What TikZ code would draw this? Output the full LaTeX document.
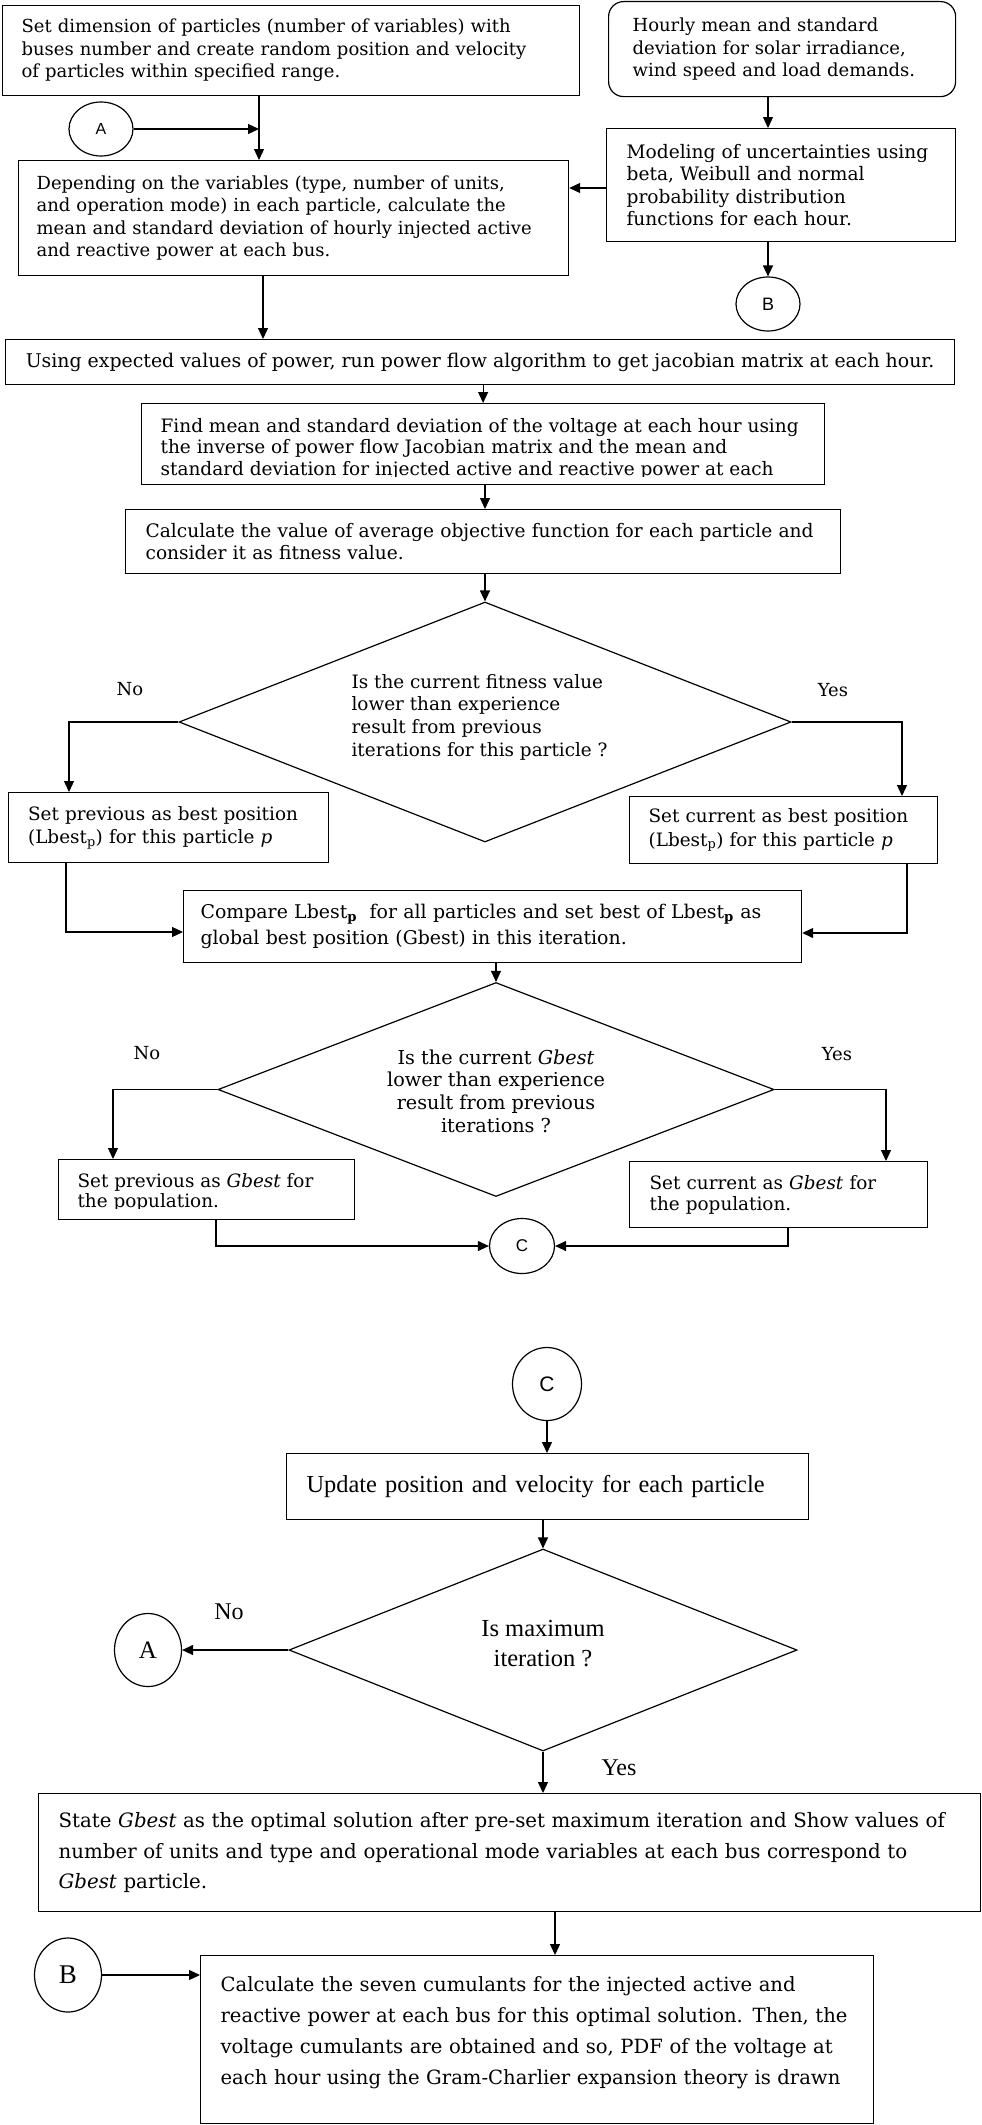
\documentclass[tikz,border=0pt]{standalone}
\usepackage{fontspec}
\setmainfont{DejaVu Serif}
\newfontfamily\tms{Liberation Serif}
\newfontfamily\arl{Liberation Sans}
\usetikzlibrary{arrows.meta,shapes.geometric,calc}
\tikzset{
  arr/.style={-{Triangle[length=11pt,width=10pt]}},
  box/.style={draw, rectangle, inner ysep=0pt, anchor=north west, align=left},
  bodyfont/.style={font=\fontsize{18}{22.5}\selectfont},
  ell/.style={draw, ellipse, inner sep=0pt},
  dia/.style={draw, diamond, inner sep=0pt},
  lbl/.style={font=\fontsize{18}{22}\selectfont},
  tlbl/.style={font=\tms\fontsize{24}{28}\selectfont}
}
\begin{document}
\begin{tikzpicture}[x=1pt,y=-1pt,line width=1.2pt]
\useasboundingbox (0,0) rectangle (982,2125);
\fill[white] (0,0) rectangle (982,2125);

% ---------- top part ----------
\node[box, bodyfont, minimum width=577pt, minimum height=90pt, inner xsep=19pt, text width=539pt] (b1) at (2,5)
 {Set dimension of particles (number of variables) with\\ buses number and create random position and velocity\\ of particles within specified range.};

\node[box, bodyfont, rounded corners=15pt, minimum width=347pt, minimum height=95pt, inner xsep=24pt, text width=299pt] (b2) at (608,1)
 {Hourly mean and standard\\ deviation for solar irradiance,\\ wind speed and load demands.};

\node[box, font=\fontsize{18.6}{22.5}\selectfont, minimum width=349pt, minimum height=113pt, inner xsep=20pt, text width=309pt] (b3) at (606,128)
 {Modeling of uncertainties using\\ beta, Weibull and normal\\ probability distribution\\ functions for each hour.};

\node[box, bodyfont, minimum width=550pt, minimum height=115pt, inner xsep=18pt, text width=514pt] (b4) at (18,160)
 {Depending on the variables (type, number of units,\\ and operation mode) in each particle, calculate the\\ mean and standard deviation of hourly injected active\\ and reactive power at each bus.};

\node[ell, minimum width=64pt, minimum height=54pt, font=\arl\fontsize{16}{16}\selectfont] (a1) at (101,129) {A};
\node[ell, minimum width=64pt, minimum height=54pt, font=\arl\fontsize{18}{18}\selectfont] (bb1) at (768,304) {B};

\node[box, font=\fontsize{18.9}{22.5}\selectfont, minimum width=949pt, minimum height=45pt, inner xsep=0pt] (b5) at (5,339)
 {Using expected values of power, run power flow algorithm to get jacobian matrix at each hour.};

\node[box, minimum width=683pt, minimum height=81pt, inner sep=0pt] (b6) at (141,403) {};
\begin{scope}
\clip (141,403) rectangle (824,476.5);
\node[anchor=north west, inner sep=0pt, align=left, font=\fontsize{18.5}{21.7}\selectfont] (b6t) at (160,417.5)
 {Find mean and standard deviation of the voltage at each hour using\\ the inverse of power flow Jacobian matrix and the mean and\\ standard deviation for injected active and reactive power at each};
\end{scope}

\node[box, font=\fontsize{18.6}{22.5}\selectfont, minimum width=715pt, minimum height=64pt, inner xsep=20pt, text width=675pt] (b7) at (125,509)
 {Calculate the value of average objective function for each particle and\\ consider it as fitness value.};

\node[dia, minimum width=612pt, minimum height=240pt] (d1) at (485,722) {};
\node[anchor=west, align=left, inner sep=0pt, font=\fontsize{18.4}{22.7}\selectfont] (d1t) at (351,717)
 {Is the current fitness value\\ lower than experience\\ result from previous\\ iterations for this particle ?};
\node[lbl] (no1) at (130,689) {No};
\node[lbl] (yes1) at (833,690) {Yes};

\node[box, font=\fontsize{18.4}{23.5}\selectfont, minimum width=320pt, minimum height=70pt, inner xsep=20pt, text width=280pt] (b8) at (7.5,792)
 {Set previous as best position\\ (Lbest\textsubscript{p}) for this particle \textit{p}};
\node[box, font=\fontsize{18.4}{23.5}\selectfont, minimum width=308pt, minimum height=67pt, inner xsep=19pt, text width=270pt] (b9) at (629,796)
 {Set current as best position\\ (Lbest\textsubscript{p}) for this particle \textit{p}};

\node[box, font=\fontsize{18.9}{26}\selectfont, minimum width=618pt, minimum height=72pt, inner xsep=17pt, text width=584pt] (b10) at (183,890)
 {Compare Lbest\textsubscript{\textbf{p}}\ \ for all particles and set best of Lbest\textsubscript{\textbf{p}} as\\ global best position (Gbest) in this iteration.};

\node[dia, minimum width=556pt, minimum height=214pt] (d2) at (496,1089.5) {};
\node[align=center, inner sep=0pt, font=\fontsize{19.2}{22.7}\selectfont] (d2t) at (496,1091)
 {Is the current \textit{Gbest}\\ lower than experience\\ result from previous\\ iterations ?};
\node[lbl] (no2) at (147,1053) {No};
\node[lbl] (yes2) at (837,1054) {Yes};

\node[box, minimum width=296pt, minimum height=60pt, inner sep=0pt] (b11) at (58,1159) {};
\begin{scope}
\clip (58,1159) rectangle (354,1208);
\node[anchor=north west, inner sep=0pt, align=left, font=\fontsize{18.4}{20}\selectfont] (b11t) at (77,1173)
 {Set previous as \textit{Gbest} for\\ the population.};
\end{scope}

\node[box, font=\fontsize{18.4}{21}\selectfont, minimum width=298pt, minimum height=66pt, inner xsep=20pt, text width=258pt] (b12) at (629,1161)
 {Set current as \textit{Gbest} for\\ the population.};

\node[ell, minimum width=65pt, minimum height=55pt, font=\arl\fontsize{17}{17}\selectfont] (c1) at (522,1246) {C};

% ---------- lower part ----------
\node[ell, minimum width=69pt, minimum height=73pt, font=\arl\fontsize{21}{21}\selectfont] (c2) at (547,1384) {C};

\node[box, font=\tms\fontsize{24.4}{30}\selectfont, minimum width=522pt, minimum height=66pt, inner xsep=20pt, text width=482pt] (b13) at (286,1453)
 {Update position and velocity for each particle};

\node[dia, minimum width=508pt, minimum height=202pt] (d3) at (543,1650) {};
\node[align=center, inner sep=0pt, font=\tms\fontsize{24.5}{30}\selectfont] (d3t) at (543,1644)
 {Is maximum\\ iteration ?};
\node[ell, minimum width=67pt, minimum height=73pt, font=\tms\fontsize{25}{25}\selectfont] (a2) at (148,1650) {A};
\node[tlbl] (no3) at (229,1612) {No};
\node[tlbl] (yes3) at (619,1768) {Yes};

\node[box, font=\fontsize{19.8}{30.5}\selectfont, minimum width=942pt, minimum height=118pt, inner xsep=20pt, text width=902pt] (b14) at (38,1793)
 {State \textit{Gbest} as the optimal solution after pre-set maximum iteration and Show values of\\ number of units and type and operational mode variables at each bus correspond to\\ \textit{Gbest} particle.};

\node[box, font=\fontsize{19.6}{31}\selectfont, minimum width=673pt, minimum height=168pt, inner xsep=20pt, text width=633pt] (b15) at (200,1955)
 {Calculate the seven cumulants for the injected active and\\ \mbox{reactive power at each bus for this optimal solution. Then, the}\\ \mbox{voltage cumulants are obtained and so, PDF of the voltage at}\\ \mbox{each hour using the Gram-Charlier expansion theory is drawn}\\[-13pt]\mbox{}};

\node[ell, minimum width=67pt, minimum height=74pt, font=\tms\fontsize{27}{27}\selectfont] (bb2) at (68,1975) {B};

% ---------- connectors ----------
\coordinate (j1) at (259,129);
\draw[arr] (j1 |- b1.south) -- (j1 |- b4.north);
\draw[arr] (a1.east) -- (j1);
\coordinate (xB) at (768,0);
\draw[arr] (xB |- b2.south) -- (xB |- b3.north);
\coordinate (y188) at (0,188);
\draw[arr] (b3.west |- y188) -- (b4.east |- y188);
\draw[arr] (bb1.north |- b3.south) -- (bb1.north);
\coordinate (x263) at (263,0);
\draw[arr] (x263 |- b4.south) -- (x263 |- b5.north);
\draw[arr] (b6.north |- b5.south) -- (b6.north);
\coordinate (x485) at (485,0);
\draw[arr] (x485 |- b6.south) -- (x485 |- b7.north);
\draw[arr] (d1.north |- b7.south) -- (d1.north);
\coordinate (x69) at (69,0);
\draw[arr] (d1.west) -| (x69 |- b8.north);
\coordinate (x902) at (902,0);
\draw[arr] (d1.east) -| (x902 |- b9.north);
\coordinate (k1) at (66,932);
\draw[arr] (k1 |- b8.south) |- (b10.west |- k1);
\coordinate (k2) at (907,933);
\draw[arr] (k2 |- b9.south) |- (b10.east |- k2);
\draw[arr] (d2.north |- b10.south) -- (d2.north);
\coordinate (x113) at (113,0);
\draw[arr] (d2.west) -| (x113 |- b11.north);
\coordinate (x886) at (886,0);
\draw[arr] (d2.east) -| (x886 |- b12.north);
\coordinate (x216) at (216,0);
\draw[arr] (x216 |- b11.south) |- (c1.west);
\coordinate (x788) at (788,0);
\draw[arr] (x788 |- b12.south) |- (c1.east);
\draw[arr] (c2.south) -- (c2.south |- b13.north);
\draw[arr] (d3.north |- b13.south) -- (d3.north);
\draw[arr] (d3.west) -- (a2.east);
\draw[arr] (d3.south) -- (d3.south |- b14.north);
\coordinate (x555) at (555,0);
\draw[arr] (x555 |- b14.south) -- (x555 |- b15.north);
\draw[arr] (bb2.east) -- (bb2.east -| b15.west);
\end{tikzpicture}
\end{document}
